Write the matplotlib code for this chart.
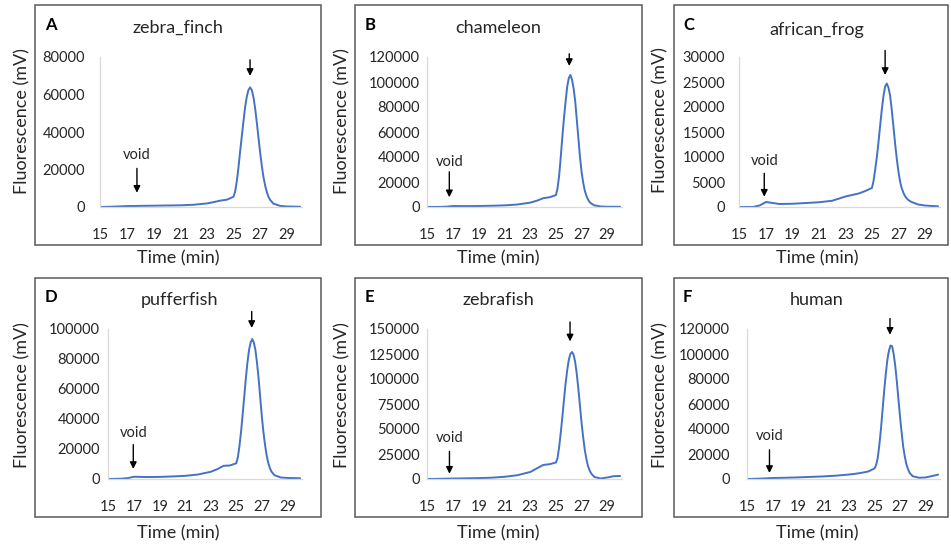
import matplotlib
matplotlib.use("Agg")
import matplotlib.pyplot as plt
from matplotlib.patches import Rectangle

plt.rcParams['font.family'] = ['Lato', 'DejaVu Sans']

W, H = 951, 548

time_min = [15, 16, 16.5, 17, 17.5, 18, 19, 20, 21, 22, 23, 23.5, 24, 24.5, 25,
            25.125, 25.25, 25.375, 25.5, 25.625, 25.75, 25.875, 26, 26.125, 26.25, 26.375,
            26.5, 26.625, 26.75, 26.875, 27, 27.125, 27.25, 27.375, 27.5, 27.625, 27.75,
            28, 28.5, 29, 29.5, 30]

zebra_finch = [0, 200, 350, 500, 550, 600, 700, 800, 900, 1200, 1900, 2600, 3400, 3900, 5500,
               8500, 14000, 21500, 30000, 38000, 46000, 53500, 59000, 62500, 63800, 62300,
               58500, 52500, 45000, 37000, 29000, 22000, 16000, 11500, 8000, 5500, 3800,
               1800, 600, 300, 200, 150]
chameleon = [0, 100, 300, 800, 750, 700, 800, 1000, 1300, 2000, 3500, 5000, 7000, 7800, 9500,
             15000, 25000, 40000, 56000, 71000, 84000, 96000, 103000, 105600, 102000, 95000,
             85000, 70000, 55000, 40000, 28000, 19500, 13000, 9000, 6000, 4000, 2800,
             1300, 400, 200, 200, 200]
african_frog = [0, 0, 300, 1000, 800, 600, 650, 800, 950, 1250, 2100, 2400, 2700, 3200, 3800,
                5200, 7500, 10000, 13000, 16300, 19500, 22200, 24100, 24700, 23900, 22300,
                19500, 16200, 12800, 9800, 7200, 5200, 3800, 2900, 2200, 1750, 1400,
                1000, 500, 300, 200, 150]
pufferfish = [0, 200, 600, 1500, 1400, 1300, 1400, 1700, 2100, 3000, 4800, 6500, 8800, 9000, 10500,
              14500, 22000, 31500, 43000, 55000, 67000, 77500, 86000, 91000, 93300, 91000,
              86000, 77500, 67000, 54500, 42000, 31500, 23000, 16000, 11000, 7500, 5000,
              2500, 1000, 700, 600, 500]
zebrafish = [0, 200, 350, 500, 600, 700, 900, 1300, 2200, 3800, 7000, 10500, 14000, 14800, 16500,
             21000, 32000, 46000, 62000, 79000, 95000, 108500, 119000, 125000, 127000, 124500,
             117000, 105000, 90000, 73000, 56000, 41500, 29000, 20000, 13000, 8500, 5500,
             2000, 500, 1500, 2800, 3000]
human = [0, 300, 550, 800, 900, 1000, 1300, 1700, 2100, 2700, 3600, 4200, 5000, 6000, 8500,
         11500, 17000, 27500, 40000, 55000, 70000, 83500, 95000, 102500, 106800, 106300,
         100000, 90500, 78000, 64000, 50000, 37500, 26000, 18000, 12000, 8000, 5000,
         2200, 1000, 1200, 2300, 3500]

letters = ['A', 'B', 'C', 'D', 'E', 'F']
names = ['zebra_finch', 'chameleon', 'african_frog', 'pufferfish', 'zebrafish', 'human']
series = [zebra_finch, chameleon, african_frog, pufferfish, zebrafish, human]
ymax = [80000, 120000, 30000, 100000, 150000, 120000]
ystep = [20000, 20000, 5000, 20000, 25000, 20000]
xticks = [15, 17, 19, 21, 23, 25, 27, 29]
# main peak arrow (x, top, tip) and void arrow (x, top, tip, text y)
peak_arrow = [(26.24, 78500, 69900), (26.04, 122600, 112800), (26.0, 31300, 26400),
              (26.21, 111700, 100700), (26.1, 157000, 137600), (26.21, 128400, 115400)]
void_arrow = [(17.73, 20600, 7600, 27700), (16.69, 28200, 7800, 36200), (16.86, 6740, 2060, 9260),
              (16.93, 22900, 6700, 30700), (16.7, 27600, 5300, 41000), (16.72, 23400, 4800, 34100)]

# layout in pixels (left, top, right, bottom)
boxes = [(35, 5, 321, 245), (355, 5, 642, 245), (674, 5, 948, 245),
         (35, 278, 321, 517), (355, 278, 642, 517), (674, 278, 948, 517)]
axes_px = [(100, 57, 302, 207), (427, 57, 622, 207), (739, 57, 940, 207),
           (108, 329, 302, 479), (427, 329, 622, 479), (747, 329, 940, 479)]
ytick_pad = [15, 7, 14, 8, 7, 17]
title_pos = [(178, 28), (498, 28), (817, 30), (180, 300), (498, 300), (817, 300)]
letter_pos = [(45, 25), (365, 25), (683, 25), (45, 297), (365, 297), (683, 297)]
ylabel_pos = [(22, 121), (342, 121), (660, 120), (22, 395), (342, 395), (660, 395)]
xlabel_pos = [(178, 258), (498, 258), (817, 258), (178, 533), (498, 533), (817, 533)]

fig = plt.figure(figsize=(W / 100, H / 100), dpi=100)

def fx(x):
    return x / W

def fy(y):
    return 1 - y / H

for i in range(6):
    bl, bt, br, bb = boxes[i]
    fig.patches.append(Rectangle((fx(bl), fy(bb)), fx(br - bl), (bb - bt) / H,
                                 transform=fig.transFigure, fill=False,
                                 edgecolor='#595959', linewidth=1.1))
    l, t, r, b = axes_px[i]
    ax = fig.add_axes([fx(l), fy(b), fx(r - l), (b - t) / H])
    ax.plot(time_min, series[i], color='#4472C4', linewidth=1.4,
            solid_joinstyle='round', solid_capstyle='round')
    ax.set_xlim(14.95, 30.15)
    ax.set_ylim(0, ymax[i])
    ax.set_xticks(xticks)
    ax.set_yticks(list(range(0, ymax[i] + 1, ystep[i])))
    ax.tick_params(length=0, labelsize=10.5, colors='#262626')
    ax.tick_params(axis='x', pad=15)
    ax.tick_params(axis='y', pad=ytick_pad[i] / 1.389)
    for s in ['top', 'right']:
        ax.spines[s].set_visible(False)
    for s in ['left', 'bottom']:
        ax.spines[s].set_color('#D9D9D9')
        ax.spines[s].set_linewidth(0.9)
    ax.patch.set_alpha(0)

    px, ptop, ptip = peak_arrow[i]
    ax.annotate('', xy=(px, ptip), xytext=(px, ptop), annotation_clip=False,
                arrowprops=dict(arrowstyle='-|>', color='black', lw=1.0,
                                mutation_scale=10, shrinkA=0, shrinkB=0))
    vx, vtop, vtip, vty = void_arrow[i]
    ax.annotate('', xy=(vx, vtip), xytext=(vx, vtop), annotation_clip=False,
                arrowprops=dict(arrowstyle='-|>', color='black', lw=1.0,
                                mutation_scale=10, shrinkA=0, shrinkB=0))
    ax.text(vx, vty, 'void', ha='center', va='center', fontsize=10.5, color='#262626')

    fig.text(fx(title_pos[i][0]), fy(title_pos[i][1]), names[i], ha='center', va='center',
             fontsize=13, color='#262626')
    fig.text(fx(letter_pos[i][0]), fy(letter_pos[i][1]), letters[i], ha='left', va='center',
             fontsize=12, fontweight='bold', color='black')
    fig.text(fx(ylabel_pos[i][0]), fy(ylabel_pos[i][1]), 'Fluorescence (mV)', ha='center',
             va='center', rotation=90, fontsize=13, color='#262626')
    fig.text(fx(xlabel_pos[i][0]), fy(xlabel_pos[i][1]), 'Time (min)', ha='center',
             va='center', fontsize=13, color='#262626')

fig.savefig('out.png', dpi=100)
